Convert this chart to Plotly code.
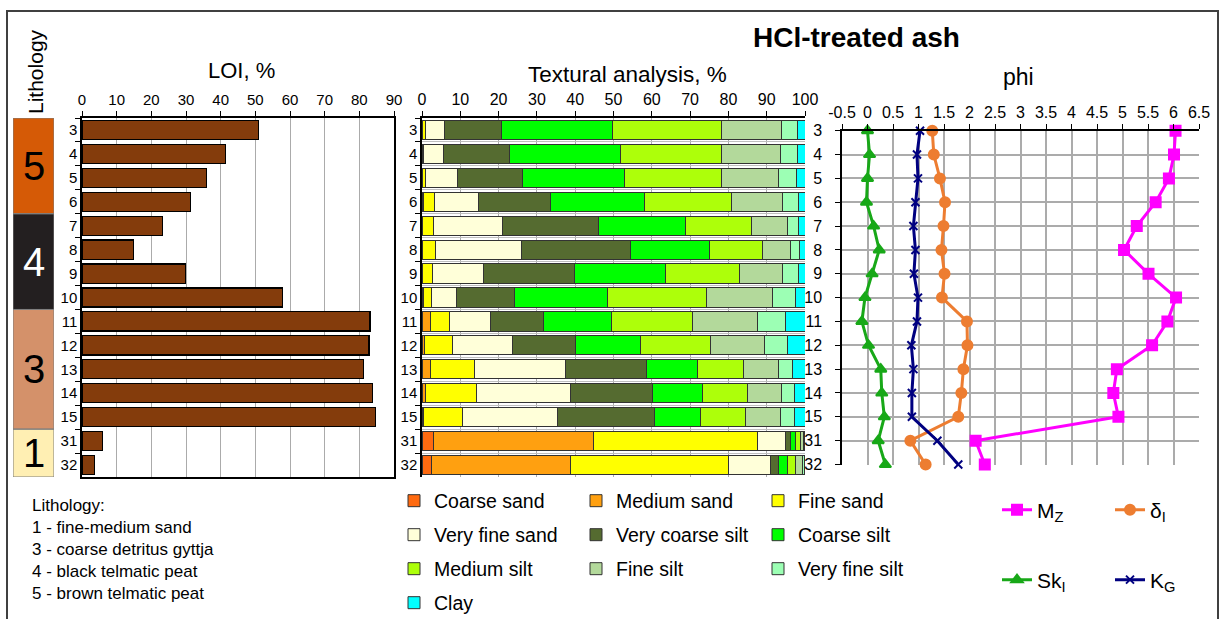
import plotly.graph_objects as go

W, H = 1227, 619
FONT = "Liberation Sans, Arial, sans-serif"


def px(x):
    return x / W


def py(y):
    return 1 - y / H


# ---- data -------------------------------------------------------------
samples = ["3", "4", "5", "6", "7", "8", "9", "10", "11", "12", "13", "14", "15", "31", "32"]

lithology = [5, 5, 5, 5, 4, 4, 4, 4, 3, 3, 3, 3, 3, 1, 1]
lithology_names = {
    1: "fine-medium sand",
    3: "coarse detritus gyttja",
    4: "black telmatic peat",
    5: "brown telmatic peat",
}

loi = [51.0, 41.5, 35.9, 31.3, 23.2, 14.8, 29.8, 57.8, 83.1, 82.8, 81.3, 83.7, 84.7, 6.0, 3.6]

coarse_sand = [0, 0, 0, 0.3, 0, 0, 0, 0, 0, 0, 0, 0, 0, 3.1, 2.6]
medium_sand = [0, 0, 0, 0.2, 0, 0, 0, 0.5, 2.3, 0.7, 2.2, 1.0, 0.5, 41.8, 36.3]
fine_sand = [0.9, 0.4, 1.0, 2.7, 3.0, 3.4, 2.7, 1.9, 4.8, 7.2, 11.4, 13.2, 10.2, 42.6, 41.2]
very_fine_sand = [5.0, 5.3, 8.2, 11.5, 18.1, 22.5, 13.3, 6.7, 10.7, 15.7, 23.9, 24.7, 24.8, 7.4, 11.0]
very_coarse_silt = [14.8, 17.1, 17.0, 18.9, 25.1, 28.5, 23.8, 15.1, 13.8, 16.6, 21.2, 21.2, 25.2, 1.3, 2.0]
coarse_silt = [29.0, 28.9, 26.6, 24.5, 22.6, 20.6, 23.8, 24.2, 17.9, 16.8, 13.3, 13.2, 12.1, 1.4, 2.2]
medium_silt = [28.5, 26.5, 25.4, 22.8, 17.3, 13.8, 19.2, 26.0, 21.1, 18.2, 12.0, 11.8, 11.6, 1.1, 2.3]
fine_silt = [15.7, 15.3, 14.8, 13.2, 9.3, 7.4, 11.3, 17.2, 16.9, 14.2, 9.1, 8.7, 9.3, 0.9, 1.8]
very_fine_silt = [4.1, 4.5, 4.8, 4.2, 3.0, 2.3, 4.1, 6.0, 7.4, 5.9, 3.7, 3.4, 3.5, 0.3, 0.4]
clay = [2.0, 2.0, 2.2, 1.7, 1.6, 1.5, 1.8, 2.4, 5.1, 4.7, 3.2, 2.8, 2.8, 0.2, 0.2]

mz = [6.04, 6.01, 5.91, 5.65, 5.28, 5.03, 5.51, 6.05, 5.88, 5.58, 4.89, 4.82, 4.92, 2.12, 2.30]
delta_i = [1.27, 1.30, 1.42, 1.52, 1.49, 1.45, 1.51, 1.46, 1.95, 1.96, 1.88, 1.84, 1.78, 0.84, 1.14]
sk_i = [0.00, 0.04, 0.00, -0.02, 0.12, 0.23, 0.09, -0.05, -0.11, 0.02, 0.26, 0.28, 0.33, 0.21, 0.35]
k_g = [1.03, 0.97, 0.99, 0.94, 0.90, 0.94, 0.91, 0.99, 0.97, 0.86, 0.90, 0.87, 0.87, 1.37, 1.78]

loi_ticks = list(range(0, 91, 10))
texture_ticks = list(range(0, 101, 10))
phi_ticks = [-0.5, 0, 0.5, 1, 1.5, 2, 2.5, 3, 3.5, 4, 4.5, 5, 5.5, 6, 6.5]
phi_labels = ["-0.5", "0", "0.5", "1", "1.5", "2", "2.5", "3", "3.5", "4", "4.5", "5", "5.5", "6", "6.5"]

# ---- styles -------------------------------------------------------------
lith_colors = {5: "#D55A06", 4: "#231F20", 3: "#D4916A", 1: "#FFEFB3"}
lith_text_colors = {5: "black", 4: "white", 3: "black", 1: "black"}

texture_classes = [
    ("Coarse sand", coarse_sand, "#FF6A10", "legend"),
    ("Medium sand", medium_sand, "#FFA010", "legend"),
    ("Fine sand", fine_sand, "#FFFF00", "legend"),
    ("Very fine sand", very_fine_sand, "#FFFFD9", "legend2"),
    ("Very coarse silt", very_coarse_silt, "#556B30", "legend2"),
    ("Coarse silt", coarse_silt, "#00FF00", "legend2"),
    ("Medium silt", medium_silt, "#ADFF0A", "legend3"),
    ("Fine silt", fine_silt, "#B3D99B", "legend3"),
    ("Very fine silt", very_fine_silt, "#9CFFB4", "legend3"),
    ("Clay", clay, "#00FFFF", "legend4"),
]

GRID = "#ABABAB"

fig = go.Figure()

# Lithology column
fig.add_trace(go.Bar(
    x=[1] * len(samples), y=samples, orientation="h", width=1,
    marker=dict(color=[lith_colors[u] for u in lithology], line=dict(width=0)),
    xaxis="x4", yaxis="y4", showlegend=False, hoverinfo="skip",
))

# LOI bars
fig.add_trace(go.Bar(
    x=loi, y=samples, orientation="h", width=0.8,
    marker=dict(color="#843C0C", line=dict(color="black", width=1.2)),
    xaxis="x", yaxis="y", showlegend=False,
))

# Texture stacked bars
for name, vals, color, leg in texture_classes:
    fig.add_trace(go.Bar(
        x=vals, y=samples, orientation="h", width=0.8, name=name,
        marker=dict(color=color, line=dict(color="#333333", width=1)),
        xaxis="x2", yaxis="y2", legend=leg,
    ))

# Grain-size parameters (phi)
phi_series = [
    ("M<sub>Z</sub>", mz, "#FF00FF", "square", 10, "legend5"),
    ("δ<sub>I</sub>", delta_i, "#ED7D31", "circle", 10, "legend5"),
    ("Sk<sub>I</sub>", sk_i, "#18A818", "triangle-up", 10, "legend6"),
    ("K<sub>G</sub>", k_g, "#000080", "x-thin-open", 8, "legend6"),
]
for name, vals, color, symbol, size, leg in phi_series:
    fig.add_trace(go.Scatter(
        x=vals, y=samples, mode="lines+markers", name=name,
        line=dict(color=color, width=3),
        marker=dict(symbol=symbol, size=size, color=color,
                    line=dict(color=color, width=2)),
        xaxis="x3", yaxis="y3", legend=leg, cliponaxis=False,
    ))

# lithology block outlines and unit numbers
shapes = []
annotations = []
start = 0
for i in range(1, len(lithology) + 1):
    if i == len(lithology) or lithology[i] != lithology[start]:
        unit = lithology[start]
        shapes.append(dict(type="rect", xref="x4", yref="y4", x0=0, x1=1,
                           y0=start - 0.5, y1=i - 0.5,
                           line=dict(color="#7F7F7F", width=1), layer="above"))
        annotations.append(dict(xref="x4", yref="y4", x=0.5, y=(start + i - 1) / 2,
                                xanchor="center", yanchor="middle",
                                text=str(unit), showarrow=False,
                                font=dict(size=40, color=lith_text_colors[unit], family=FONT)))
        start = i

# outer frame (bottom edge runs past the page)
shapes.append(dict(type="rect", xref="paper", yref="paper",
                   x0=px(7), x1=px(1218), y0=py(624), y1=py(11),
                   line=dict(color="#404040", width=2)))


def label(x, y, text, size, **kw):
    d = dict(xref="paper", yref="paper", x=px(x), y=py(y), text=text,
             xanchor="center", yanchor="middle", showarrow=False,
             font=dict(size=size, family=FONT, color="black"))
    d.update(kw)
    return d


annotations += [
    label(856, 38, "<b>HCl-treated ash</b>", 28),
    label(35, 72, "Lithology", 21, textangle=-90),
    label(241, 71, "LOI, %", 22),
    label(627, 74, "Textural analysis, %", 22.5),
    label(1018, 77, "phi", 23),
    label(30, 494, "Lithology:<br>" + "<br>".join(
        f"{u} - {lithology_names[u]}" for u in sorted(lithology_names)),
        17, xanchor="left", yanchor="top", align="left"),
]

tick_font = dict(size=15, family=FONT, color="black")
cat_axis = dict(type="category", categoryorder="array", categoryarray=samples,
                tickfont=tick_font, showline=True, linecolor="black", linewidth=1.5,
                ticks="outside", ticklen=5, tickcolor="black", zeroline=False,
                automargin=False)

legend_common = dict(orientation="h", xanchor="left", yanchor="middle",
                     bgcolor="rgba(0,0,0,0)", traceorder="normal",
                     entrywidthmode="pixels", itemclick=False, itemdoubleclick=False)
tex_font = dict(size=19.5, family=FONT, color="black")
phi_font = dict(size=21, family=FONT, color="black")

fig.update_layout(
    width=W, height=H,
    margin=dict(l=0, r=0, t=0, b=0, pad=0, autoexpand=False),
    paper_bgcolor="white", plot_bgcolor="rgba(0,0,0,0)",
    font=dict(family=FONT, color="black"),
    barmode="stack",
    showlegend=True,
    xaxis=dict(domain=[px(82), px(394)], range=[0, 90], side="top", anchor="y",
               tickvals=loi_ticks, showgrid=True, gridcolor=GRID, gridwidth=1,
               showline=True, mirror=True, linecolor="black", linewidth=1.5,
               ticks="outside", ticklen=5, tickcolor="black", tickfont=tick_font,
               zeroline=False, automargin=False),
    yaxis=dict(cat_axis, domain=[py(477), py(118)], range=[14.5, -0.5], anchor="x",
               tickson="boundaries", showgrid=False, mirror=True),
    xaxis2=dict(domain=[px(422), px(805)], range=[0, 100], side="top", anchor="y2",
                tickvals=texture_ticks, showgrid=True, gridcolor=GRID, gridwidth=1,
                showline=True, linecolor="black", linewidth=1.5,
                ticks="outside", ticklen=5, tickcolor="black",
                tickfont=dict(size=16, family=FONT, color="black"), zeroline=False,
                automargin=False),
    yaxis2=dict(cat_axis, domain=[py(477), py(118)], range=[14.5, -0.5], anchor="x2",
                tickson="boundaries", showgrid=True, gridcolor="#BEBEBE", gridwidth=1),
    xaxis3=dict(domain=[px(842), px(1199)], range=[-0.5, 6.5], side="top", anchor="y3",
                tickvals=phi_ticks, ticktext=phi_labels, showgrid=True,
                gridcolor=GRID, gridwidth=1.5,
                showline=True, linecolor="black", linewidth=1.5,
                ticks="outside", ticklen=5, tickcolor="black",
                tickfont=dict(size=16, family=FONT, color="black"), zeroline=False,
                automargin=False),
    yaxis3=dict(cat_axis, domain=[py(465), py(130.7)], range=[14.02, 0], anchor="x3",
                showgrid=True, gridcolor=GRID, gridwidth=1.5, ticklabelstandoff=10,
                tickfont=dict(size=16, family=FONT, color="black")),
    xaxis4=dict(domain=[px(13), px(54)], range=[0, 1], anchor="y4", visible=False),
    yaxis4=dict(type="category", categoryorder="array", categoryarray=samples,
                domain=[py(477), py(118)], range=[14.5, -0.5], anchor="x4", visible=False),
    legend=dict(legend_common, x=px(394), y=py(501), entrywidth=137, font=tex_font),
    legend2=dict(legend_common, x=px(394), y=py(535), entrywidth=137, font=tex_font),
    legend3=dict(legend_common, x=px(394), y=py(569), entrywidth=137, font=tex_font),
    legend4=dict(legend_common, x=px(394), y=py(603), entrywidth=137, font=tex_font),
    legend5=dict(legend_common, x=px(997), y=py(510), entrywidth=68, font=phi_font),
    legend6=dict(legend_common, x=px(997), y=py(580), entrywidth=68, font=phi_font),
    shapes=shapes,
    annotations=annotations,
)

fig.write_html("out.html")
